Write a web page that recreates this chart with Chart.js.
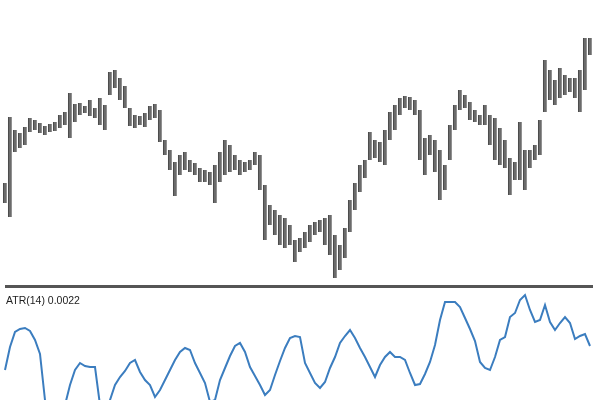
<!DOCTYPE html>
<html>
<head>
<meta charset="utf-8">
<script src="https://cdn.jsdelivr.net/npm/chart.js@4/dist/chart.umd.min.js"></script>
<style>
  body { margin: 0; background: #fff; }
  #wrap { position: relative; width: 600px; height: 400px; overflow: hidden; background: #fff; }
  #price { position: absolute; left: 0; top: 0; }
  #atr { position: absolute; left: 0; top: 290px; }
  #sep { position: absolute; left: 5px; top: 285px; width: 588px; height: 3px; background: #555; }
  #atrLabel { position: absolute; left: 6px; top: 294px; font: 10.5px "Liberation Sans", Arial, sans-serif; color: #222; }
</style>
</head>
<body>
<div id="wrap">
  <canvas id="price" width="600" height="287"></canvas>
  <div id="sep"></div>
  <canvas id="atr" width="600" height="110"></canvas>
  <div id="atrLabel">ATR(14) 0.0022</div>
</div>
<script>
// bar highs / lows (price)
const highs = [
  1.3097, 1.3163, 1.3150, 1.3147, 1.3153, 1.3162, 1.3160, 1.3157, 1.3154, 1.3156,
  1.3158, 1.3165, 1.3168, 1.3187, 1.3176, 1.3177, 1.3174, 1.3180, 1.3172, 1.3182,
  1.3175, 1.3208, 1.3210, 1.3202, 1.3194, 1.3172, 1.3165, 1.3164, 1.3167, 1.3174,
  1.3176, 1.3170, 1.3140, 1.3130, 1.3118, 1.3125, 1.3128, 1.3120, 1.3117, 1.3112,
  1.3110, 1.3108, 1.3115, 1.3128, 1.3140, 1.3135, 1.3125, 1.3120, 1.3118, 1.3120,
  1.3128, 1.3125, 1.3095, 1.3075, 1.3070, 1.3065, 1.3062, 1.3055, 1.3040, 1.3042,
  1.3048, 1.3055, 1.3058, 1.3060, 1.3062, 1.3065, 1.3045, 1.3035, 1.3052, 1.3080,
  1.3097, 1.3115, 1.3120, 1.3148, 1.3140, 1.3138, 1.3150, 1.3168, 1.3175, 1.3182,
  1.3184, 1.3183, 1.3180, 1.3170, 1.3142, 1.3145, 1.3140, 1.3130, 1.3115, 1.3155,
  1.3175, 1.3190, 1.3185, 1.3178, 1.3170, 1.3165, 1.3175, 1.3165, 1.3162, 1.3152,
  1.3140, 1.3122, 1.3118, 1.3158, 1.3130, 1.3130, 1.3135, 1.3160, 1.3220, 1.3210,
  1.3200, 1.3212, 1.3205, 1.3202, 1.3202, 1.3210, 1.3242, 1.3242
];
const lows = [
  1.3077, 1.3063, 1.3128, 1.3132, 1.3135, 1.3148, 1.3150, 1.3147, 1.3145, 1.3148,
  1.3149, 1.3152, 1.3155, 1.3142, 1.3158, 1.3165, 1.3167, 1.3164, 1.3162, 1.3155,
  1.3150, 1.3185, 1.3192, 1.3180, 1.3172, 1.3154, 1.3152, 1.3155, 1.3153, 1.3160,
  1.3162, 1.3138, 1.3125, 1.3110, 1.3084, 1.3105, 1.3110, 1.3108, 1.3105, 1.3098,
  1.3098, 1.3095, 1.3077, 1.3098, 1.3105, 1.3108, 1.3110, 1.3105, 1.3108, 1.3110,
  1.3115, 1.3090, 1.3040, 1.3055, 1.3045, 1.3035, 1.3032, 1.3035, 1.3018, 1.3028,
  1.3032, 1.3038, 1.3045, 1.3048, 1.3035, 1.3025, 1.3002, 1.3010, 1.3022, 1.3048,
  1.3070, 1.3088, 1.3102, 1.3120, 1.3122, 1.3118, 1.3115, 1.3140, 1.3150, 1.3165,
  1.3172, 1.3170, 1.3165, 1.3120, 1.3105, 1.3125, 1.3108, 1.3080, 1.3090, 1.3120,
  1.3150, 1.3170, 1.3172, 1.3160, 1.3158, 1.3155, 1.3155, 1.3135, 1.3120, 1.3115,
  1.3112, 1.3085, 1.3100, 1.3100, 1.3090, 1.3112, 1.3120, 1.3125, 1.3168, 1.3180,
  1.3175, 1.3182, 1.3185, 1.3188, 1.3182, 1.3168, 1.3190, 1.3225
];
// ATR(14) per bar
const atr = [
  0.00176, 0.00222, 0.00252, 0.00258, 0.00260, 0.00254, 0.00236, 0.00208, 0.00116, 0.00086,
  0.00076, 0.00076, 0.00106, 0.00146, 0.00176, 0.00190, 0.00184, 0.00182, 0.00182, 0.00106,
  0.00086, 0.00116, 0.00146, 0.00162, 0.00174, 0.00190, 0.00196, 0.00172, 0.00156, 0.00146,
  0.00122, 0.00136, 0.00156, 0.00176, 0.00196, 0.00212, 0.00220, 0.00216, 0.00190, 0.00170,
  0.00150, 0.00112, 0.00116, 0.00156, 0.00180, 0.00204, 0.00224, 0.00230, 0.00212, 0.00182,
  0.00164, 0.00146, 0.00126, 0.00136, 0.00166, 0.00194, 0.00220, 0.00240, 0.00244, 0.00242,
  0.00190, 0.00170, 0.00150, 0.00140, 0.00152, 0.00180, 0.00202, 0.00230, 0.00244, 0.00256,
  0.00240, 0.00220, 0.00202, 0.00182, 0.00162, 0.00186, 0.00202, 0.00212, 0.00202, 0.00202,
  0.00196, 0.00170, 0.00146, 0.00148, 0.00168, 0.00192, 0.00226, 0.00276, 0.00312, 0.00312,
  0.00312, 0.00302, 0.00280, 0.00258, 0.00234, 0.00192, 0.00180, 0.00176, 0.00202, 0.00236,
  0.00242, 0.00282, 0.00290, 0.00316, 0.00326, 0.00296, 0.00272, 0.00276, 0.00306, 0.00272,
  0.00256, 0.00270, 0.00282, 0.00270, 0.00238, 0.00244, 0.00248, 0.00224
];
const labels = highs.map((_, i) => i + 1);

const hidden = { display: false, grid: { display: false } };

new Chart(document.getElementById("price"), {
  type: "bar",
  data: {
    labels,
    datasets: [{
      data: highs.map((h, i) => [lows[i], h]),
      backgroundColor: "#6b6b6b",
      borderColor: "#4a4a4a",
      borderWidth: { left: 1, right: 0, top: 0, bottom: 0 },
      borderSkipped: false,
      barThickness: 3.5,
    }],
  },
  options: {
    responsive: false,
    animation: false,
    layout: { padding: { left: 2.5, right: 7.5, top: 0, bottom: 0 } },
    plugins: { legend: { display: false }, tooltip: { enabled: false } },
    scales: {
      x: { ...hidden, offset: true },
      y: { ...hidden, min: 1.2993, max: 1.3280 },
    },
  },
});

new Chart(document.getElementById("atr"), {
  type: "line",
  data: {
    labels,
    datasets: [{
      data: atr,
      borderColor: "#3b7dbf",
      borderWidth: 2,
      pointRadius: 0,
      tension: 0,
      fill: false,
    }],
  },
  options: {
    responsive: false,
    animation: false,
    layout: { padding: { left: 2.5, right: 7.5, top: 0, bottom: 0 } },
    plugins: { legend: { display: false }, tooltip: { enabled: false } },
    scales: {
      x: { ...hidden, offset: true },
      y: { ...hidden, min: 0.00116, max: 0.00336 },
    },
  },
});
</script>
</body>
</html>
